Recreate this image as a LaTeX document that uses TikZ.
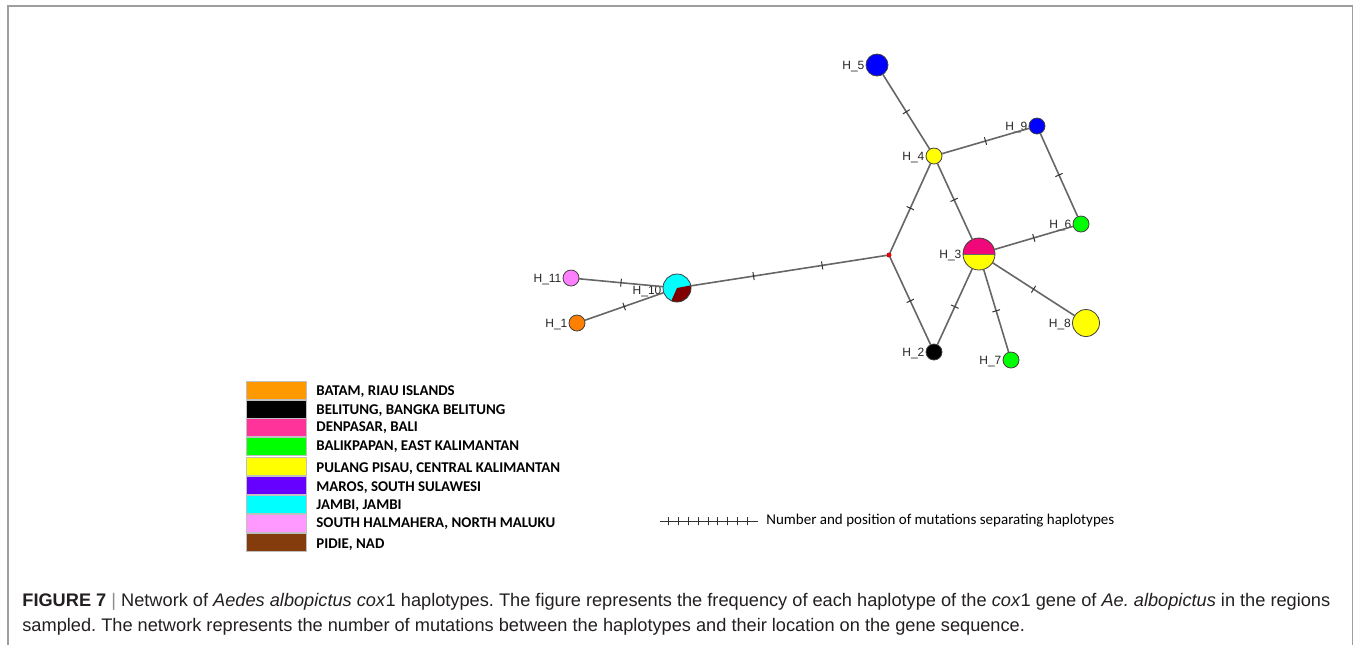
\documentclass[tikz,border=0pt]{standalone}
\usepackage{fontspec}
\setmainfont{Liberation Sans}
\newfontfamily\legfont{Carlito}
\newfontfamily\capfont{Liberation Sans}
\begin{document}
\frenchspacing
\begin{tikzpicture}[x=0.5pt,y=-0.5pt,
  hap/.style={circle,draw=black!75,line width=0.4pt,inner sep=0pt,outer sep=0pt},
  hlab/.style={font=\fontsize{6}{7}\selectfont,text=black!85,inner sep=0.6pt,yshift=-0.8pt},
  edge/.style={draw=black!60,line width=0.8pt},
  mut/.style={draw=black!80,line width=0.5pt,sloped,minimum width=0pt,minimum height=4pt,inner sep=0pt,outer sep=0pt,shape=rectangle},
  swatch/.style={draw=black!25,line width=0.3pt,minimum width=30pt,minimum height=9.2pt,inner sep=0pt,anchor=west},
  legtext/.style={font=\legfont\bfseries\fontsize{7.45}{8}\selectfont,anchor=west,inner sep=0pt},
  captext/.style={font=\capfont\fontsize{9.1}{10}\selectfont,text=captext,anchor=west,inner sep=0pt},
  frame/.style={draw=black!38,line width=0.8pt}
]
\definecolor{hpink}{HTML}{F0087A}
\definecolor{hyellow}{HTML}{FFFF00}
\definecolor{hgreen}{HTML}{00FF00}
\definecolor{hblue}{HTML}{0000FF}
\definecolor{hcyan}{HTML}{00FFFF}
\definecolor{hbrown}{HTML}{800000}
\definecolor{hviolet}{HTML}{FF80FF}
\definecolor{horange}{HTML}{FF8000}
\definecolor{lorange}{HTML}{FF9900}
\definecolor{lpink}{HTML}{FF3399}
\definecolor{lpurple}{HTML}{6600FF}
\definecolor{llpink}{HTML}{FF99FF}
\definecolor{lbrown}{HTML}{843C0C}
\definecolor{captext}{HTML}{231F20}

\useasboundingbox (0,0) rectangle (1356,645);
% frame
\coordinate (fbl) at (8,645);
\coordinate (ftl) at (8,6);
\coordinate (ftr) at (1352.5,6);
\coordinate (fbr) at (1352.5,645);
\draw[frame] (fbl) -- (ftl) -- (ftr) -- (fbr);

% haplotypes
\node[hap,fill=hblue,minimum size=11pt,label={[hlab]left:H\_5}] (H5) at (877,65) {};
\node[hap,fill=hyellow,minimum size=8pt,label={[hlab]left:H\_4}] (H4) at (934,156) {};
\node[hap,fill=hblue,minimum size=8pt,label={[hlab]left:H\_9}] (H9) at (1037,126) {};
\node[hap,fill=hgreen,minimum size=8pt,label={[hlab]left:H\_6}] (H6) at (1081,224) {};
\node[hap,fill=hyellow,minimum size=16pt,label={[hlab]left:H\_3},
  path picture={\fill[hpink] (path picture bounding box.west) rectangle (path picture bounding box.north east);
  \draw[black!60,line width=0.3pt] (path picture bounding box.west) -- (path picture bounding box.east);}] (H3) at (979,254) {};
\node[hap,fill=hyellow,minimum size=13.5pt,label={[hlab]left:H\_8}] (H8) at (1086,323) {};
\node[hap,fill=hgreen,minimum size=8pt,label={[hlab]left:H\_7}] (H7) at (1011,360) {};
\node[hap,fill=black,minimum size=8pt,label={[hlab]left:H\_2}] (H2) at (934,352) {};
\node[circle,fill=red,draw=red!60!black,line width=0.2pt,minimum size=2.2pt,inner sep=0pt,outer sep=0pt] (mv) at (889,255) {};
\node[hap,fill=hcyan,minimum size=14pt,label={[hlab,yshift=-1pt]left:H\_10},
  path picture={\fill[hbrown] (path picture bounding box.center) -- ++(-114:12pt) arc[start angle=-114,end angle=11,radius=12pt] -- cycle;}] (H10) at (677,288) {};
\node[hap,fill=hviolet,minimum size=8pt,label={[hlab]left:H\_11}] (H11) at (571,278) {};
\node[hap,fill=horange,minimum size=8pt,label={[hlab]left:H\_1}] (H1) at (577,323) {};

% connections
\draw[edge] (H5) -- node[mut,pos=0.5]{} (H4);
\draw[edge] (H4) -- node[mut,pos=0.5]{} (H9);
\draw[edge] (H9) -- node[mut,pos=0.5]{} (H6);
\draw[edge] (H4) -- node[mut,pos=0.48]{} (H3);
\draw[edge] (H4) -- node[mut,pos=0.5]{} (mv);
\draw[edge] (mv) -- node[mut,pos=0.5]{} (H2);
\draw[edge] (H3) -- node[mut,pos=0.5]{} (H2);
\draw[edge] (H3) -- node[mut,pos=0.5]{} (H6);
\draw[edge] (H3) -- node[mut,pos=0.5]{} (H8);
\draw[edge] (H3) -- node[mut,pos=0.5]{} (H7);
\draw[edge] (mv) -- node[mut,pos=0.33]{} node[mut,pos=0.68]{} (H10);
\draw[edge] (H10) -- node[mut,pos=0.5]{} (H11);
\draw[edge] (H10) -- node[mut,pos=0.5]{} (H1);

% legend of colours
\node[swatch,fill=lorange] (s1) at (246,390) {};
\node[swatch,fill=black] (s2) at (246,409) {};
\node[swatch,fill=lpink] (s3) at (246,427.5) {};
\node[swatch,fill=hgreen] (s4) at (246,446.5) {};
\node[swatch,fill=hyellow] (s5) at (246,466.5) {};
\node[swatch,fill=lpurple] (s6) at (246,485.5) {};
\node[swatch,fill=hcyan] (s7) at (246,504) {};
\node[swatch,fill=llpink] (s8) at (246,523) {};
\node[swatch,fill=lbrown] (s9) at (246,542) {};
\node[legtext] (t1) at (316,392) {BATAM, RIAU ISLANDS};
\node[legtext] (t2) at (316,411) {BELITUNG, BANGKA BELITUNG};
\node[legtext] (t3) at (316,428) {DENPASAR, BALI};
\node[legtext] (t4) at (316,447) {BALIKPAPAN, EAST KALIMANTAN};
\node[legtext] (t5) at (316,469) {PULANG PISAU, CENTRAL KALIMANTAN};
\node[legtext] (t6) at (316,488) {MAROS, SOUTH SULAWESI};
\node[legtext] (t7) at (316,506) {JAMBI, JAMBI};
\node[legtext] (t8) at (316,524) {SOUTH HALMAHERA, NORTH MALUKU};
\node[legtext] (t9) at (316,545) {PIDIE, NAD};

% legend of mutations
\coordinate (ml) at (660,521);
\coordinate (mr) at (758,521);
\draw[black!80,line width=0.5pt] (ml) --
  node[mut,pos=0.09]{} node[mut,pos=0.19]{} node[mut,pos=0.29]{}
  node[mut,pos=0.39]{} node[mut,pos=0.49]{} node[mut,pos=0.59]{}
  node[mut,pos=0.69]{} node[mut,pos=0.79]{} node[mut,pos=0.89]{} (mr);
\node[font=\legfont\fontsize{7.5}{8}\selectfont,anchor=west,inner sep=0pt] (mlab) at (766,521) {Number and position of mutations separating haplotypes};

% caption
\node[captext] (cap1) at (22,602)
  {\textbf{FIGURE 7} {\color{black!45}|} Network of \textit{Aedes albopictus cox}1 haplotypes. The figure represents the frequency of each haplotype of the \textit{cox}1 gene of \textit{Ae. albopictus} in the regions};
\node[captext] (cap2) at (22,627)
  {sampled. The network represents the number of mutations between the haplotypes and their location on the gene sequence.};
\end{tikzpicture}
\end{document}
